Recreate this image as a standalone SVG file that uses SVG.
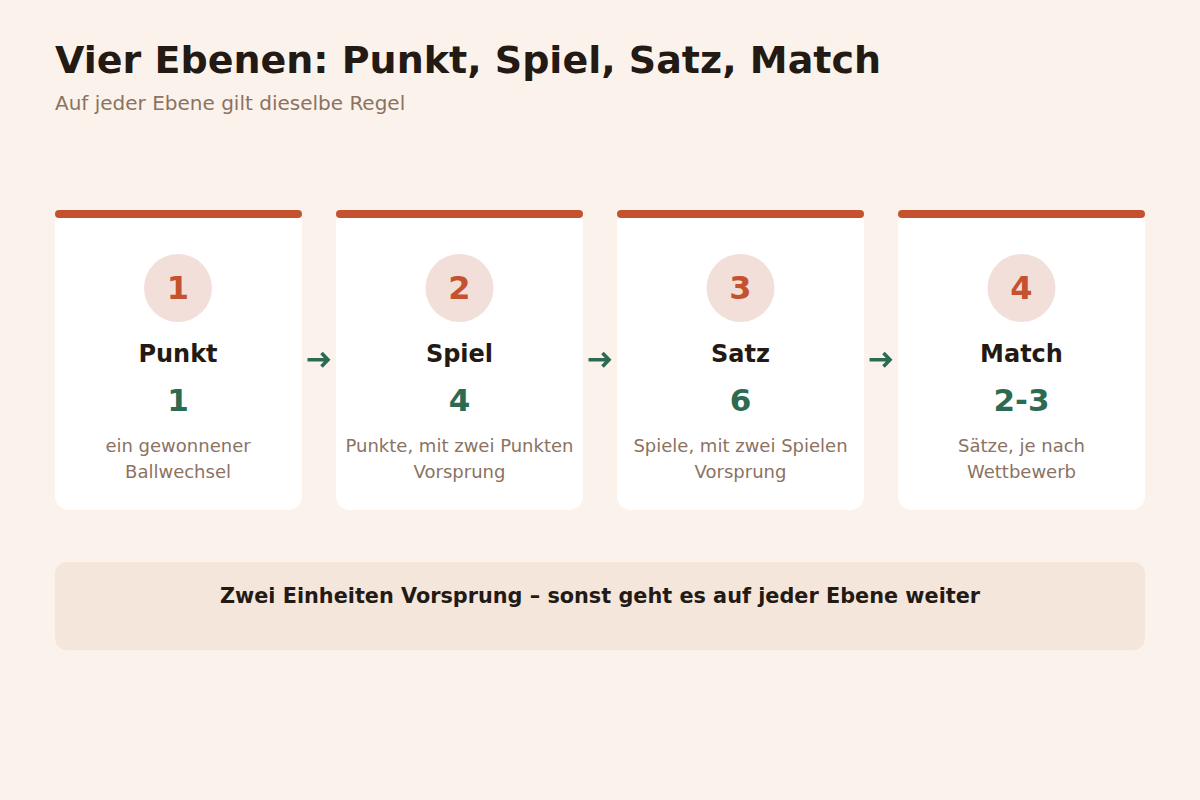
<svg xmlns="http://www.w3.org/2000/svg" width="1200" height="800" viewBox="0 0 1200 800">
<style>
text{font-family:"DejaVu Sans",sans-serif}
.card{fill:#ffffff}
.bar{fill:#c4522f}
.circ{fill:#f3dfd9}
.num{font-size:32px;font-weight:bold;fill:#c4522f;text-anchor:middle}
.name{font-size:24px;font-weight:bold;fill:#231a14;text-anchor:middle}
.val{font-size:31px;font-weight:bold;fill:#2d6a52;text-anchor:middle}
.desc{font-size:18px;fill:#8b7262;text-anchor:middle}
.arr{fill:none;stroke:#2d6a52;stroke-width:3.6}
</style>
<rect width="1200" height="800" fill="#fcf2ec"/>
<text x="55" y="73" font-size="38" font-weight="bold" fill="#231a14">Vier Ebenen: Punkt, Spiel, Satz, Match</text>
<text x="55" y="110" font-size="20" fill="#8b7262">Auf jeder Ebene gilt dieselbe Regel</text>
<g id="connectors">
<path class="arr" d="M307.500 359.700 H327 M321.500 353 L328 359.700 L321.500 366.500"/>
<path class="arr" d="M588.500 359.700 H608 M602.500 353 L609 359.700 L602.500 366.500"/>
<path class="arr" d="M869.500 359.700 H889 M883.500 353 L890 359.700 L883.500 366.500"/>
</g>
<g id="node1">
<rect class="card" x="55" y="210" width="247" height="300" rx="14"/>
<rect class="bar" x="55" y="210" width="247" height="8" rx="4"/>
<circle class="circ" cx="178" cy="288" r="34"/>
<text class="num" x="178" y="299">1</text>
<text class="name" x="178" y="362">Punkt</text>
<text class="val" x="178" y="411">1</text>
<text class="desc" x="178" y="452">ein gewonnener</text>
<text class="desc" x="178" y="478">Ballwechsel</text>
</g>
<g id="node2">
<rect class="card" x="336" y="210" width="247" height="300" rx="14"/>
<rect class="bar" x="336" y="210" width="247" height="8" rx="4"/>
<circle class="circ" cx="459.500" cy="288" r="34"/>
<text class="num" x="459.500" y="299">2</text>
<text class="name" x="459.500" y="362">Spiel</text>
<text class="val" x="459.500" y="411">4</text>
<text class="desc" x="459.500" y="452">Punkte, mit zwei Punkten</text>
<text class="desc" x="459.500" y="478">Vorsprung</text>
</g>
<g id="node3">
<rect class="card" x="617" y="210" width="247" height="300" rx="14"/>
<rect class="bar" x="617" y="210" width="247" height="8" rx="4"/>
<circle class="circ" cx="740.500" cy="288" r="34"/>
<text class="num" x="740.500" y="299">3</text>
<text class="name" x="740.500" y="362">Satz</text>
<text class="val" x="740.500" y="411">6</text>
<text class="desc" x="740.500" y="452">Spiele, mit zwei Spielen</text>
<text class="desc" x="740.500" y="478">Vorsprung</text>
</g>
<g id="node4">
<rect class="card" x="898" y="210" width="247" height="300" rx="14"/>
<rect class="bar" x="898" y="210" width="247" height="8" rx="4"/>
<circle class="circ" cx="1021.500" cy="288" r="34"/>
<text class="num" x="1021.500" y="299">4</text>
<text class="name" x="1021.500" y="362">Match</text>
<text class="val" x="1021.500" y="411">2-3</text>
<text class="desc" x="1021.500" y="452">Sätze, je nach</text>
<text class="desc" x="1021.500" y="478">Wettbewerb</text>
</g>
<g id="note">
<rect x="55" y="562" width="1090" height="88" rx="12" fill="#f5e6dc"/>
<text x="600" y="603" font-size="20.800" font-weight="bold" fill="#231a14" text-anchor="middle">Zwei Einheiten Vorsprung – sonst geht es auf jeder Ebene weiter</text>
</g>
</svg>
